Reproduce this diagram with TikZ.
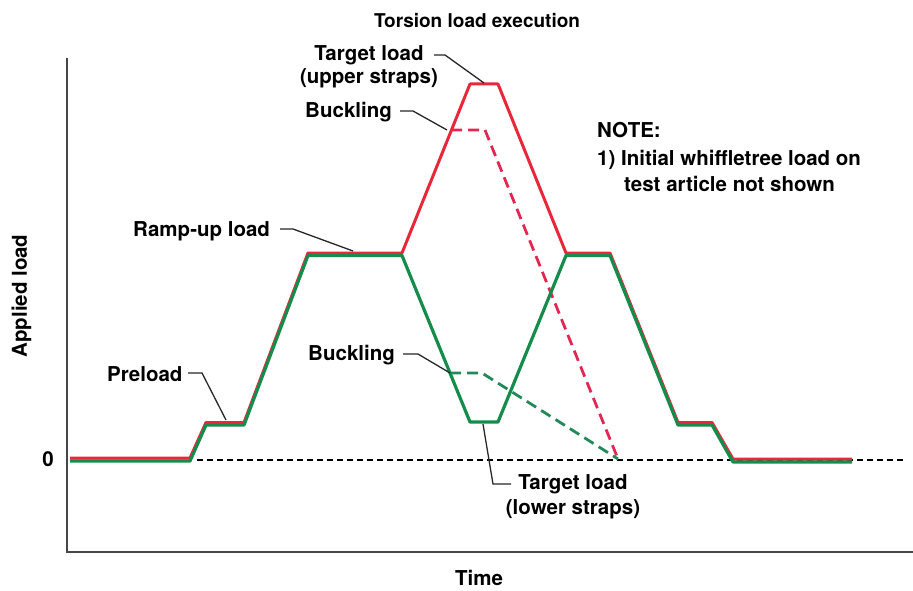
\documentclass[tikz,border=0pt]{standalone}
\usepackage{fontspec}
\setmainfont{TeX Gyre Heros}
\definecolor{loadred}{RGB}{232,40,58}
\definecolor{buckred}{RGB}{226,40,82}
\definecolor{loadgreen}{RGB}{22,140,76}
\definecolor{buckgreen}{RGB}{34,138,88}
\definecolor{axisgray}{RGB}{70,70,70}
\begin{document}
\begin{tikzpicture}[x=1pt,y=-1pt,
  lbl/.style={font=\fontsize{20.5}{24}\selectfont\bfseries, anchor=base, inner sep=0pt},
  lblw/.style={lbl, anchor=base west},
  leader/.style={draw=black!85, line width=1.3pt},
  redline/.style={draw=loadred, line width=3pt, line join=round},
  greenline/.style={draw=loadgreen, line width=3.2pt, line join=round},
  redbuck/.style={draw=buckred, line width=2.8pt, dash pattern=on 11pt off 6pt},
  greenbuck/.style={draw=buckgreen, line width=2.8pt, dash pattern=on 11pt off 6pt},
  zeroline/.style={draw=black, line width=1.2pt, dash pattern=on 6pt off 4pt},
  axis/.style={draw=axisgray, line width=2pt}]
\useasboundingbox (0,0) rectangle (913,591);

% axes
\coordinate (ytop) at (67,58);
\coordinate (orig) at (67,552);
\coordinate (xend) at (913,552);
\draw[axis] (ytop) -- (orig) -- (xend);

% zero level
\coordinate (z0) at (197,460);
\coordinate (z1) at (905,460);
\draw[zeroline] (z0) -- (z1);
\node[lbl] (zero) at (48,466) {0};

% buckling branches
\draw[redbuck] (451,130) -- (485,130) -- (618,459);
\draw[greenbuck] (450,373) -- (482,373) -- (618,459);

% load histories: upper straps (red) and lower straps (green)
\draw[redline] (70,458) -- (190,458) -- (206,422.5) -- (244,422.5) -- (308,253) -- (402,253)
  -- (470,84) -- (498,84) -- (566,253) -- (610,253) -- (678,422.5) -- (712,422.5)
  -- (733,459) -- (852,459);
\draw[greenline] (70,461) -- (190,461) -- (206,425) -- (244,425) -- (308,255.5) -- (402,255.5)
  -- (470,422) -- (498,422) -- (566,255.5) -- (610,255.5) -- (678,425) -- (712,425)
  -- (733,462) -- (852,462);

% title and axis labels
\node[lbl, font=\fontsize{19}{22}\selectfont\bfseries] (title) at (477,28) {Torsion load execution};
\node[lbl] (time) at (479,585) {Time};
\node[lbl, rotate=90] (applied) at (27,296) {Applied load};

% callouts
\node[lbl] (tgtup1) at (369,61) {Target load};
\node[lbl] (tgtup2) at (369,84) {(upper straps)};
\draw[leader] (434,55) -- (445,55) -- (484,83);

\node[lblw] (buckup) at (305,118) {Buckling};
\draw[leader] (400,111) -- (413,111) -- (447,130);

\node[lblw] (ramp) at (133,236) {Ramp-up load};
\draw[leader] (280,229) -- (293,229) -- (353,251);

\node[lblw] (pre) at (107,381) {Preload};
\draw[leader] (188,373) -- (202,373) -- (226,420);

\node[lblw] (bucklo) at (308,360) {Buckling};
\draw[leader] (403,354) -- (418,354) -- (450,373);

\node[lbl] (tgtlo1) at (573,489) {Target load};
\node[lbl] (tgtlo2) at (573,514) {(lower straps)};
\draw[leader] (483,424) -- (493,484) -- (511,484);

% note
\node[lblw] (note1) at (597,138) {NOTE:};
\node[lblw] (note2) at (597,165) {1) Initial whiffletree load on};
\node[lblw] (note3) at (624,191) {test article not shown};
\end{tikzpicture}
\end{document}
